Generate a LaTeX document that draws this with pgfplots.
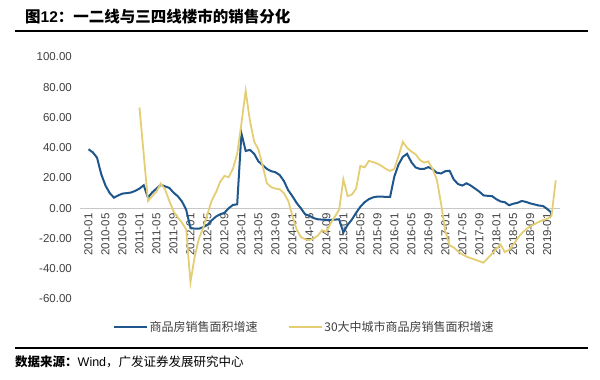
\documentclass[border=0pt]{standalone}
\usepackage{fontspec}
\setmainfont{Liberation Sans}
\newfontfamily\cjk{Noto Sans CJK SC}
\usepackage{pgfplots}
\pgfplotsset{compat=1.18}
\definecolor{bluel}{RGB}{31,86,140}
\definecolor{goldl}{RGB}{228,206,116}
\definecolor{ticktxt}{RGB}{64,64,64}
\definecolor{zerol}{RGB}{200,200,200}

\begin{document}
\begin{tikzpicture}[x=1bp,y=1bp]
\useasboundingbox (0,0) rectangle (600,379);
\node[anchor=west, inner sep=0pt] at (25,362) {\fontsize{15.5bp}{18bp}\selectfont{\cjk\bfseries 图}{\bfseries 12}{\cjk\bfseries ：一二线与三四线楼市的销售分化}};
\draw[line width=1.4bp] (15,348) -- (588,348);
\draw[line width=1.4bp] (15,31) -- (588,31);
\node[anchor=west, inner sep=0pt] at (15,17) {\fontsize{12.5bp}{15bp}\selectfont{\cjk\bfseries 数据来源：}Wind{\cjk ，广发证券发展研究中心}};
\begin{axis}[
  at={(80bp,80bp)}, anchor=south west,
  scale only axis, width=480bp, height=242bp,
  xmin=-2, xmax=111, ymin=-60, ymax=100,
  axis x line=middle, axis y line=left,
  x axis line style={-, zerol, line width=0.8bp},
  y axis line style={draw=none},
  hide obscured x ticks=false, hide obscured y ticks=false,
  major tick length=0pt,
  xtick style={draw=none}, ytick style={draw=none},
  ytick={-60,-40,-20,0,20,40,60,80,100},
  yticklabels={-60.00,-40.00,-20.00,0.00,20.00,40.00,60.00,80.00,100.00},
  yticklabel style={font=\fontsize{11.5bp}{13bp}\selectfont, text=ticktxt, anchor=east, inner sep=0pt, xshift=-8bp},
  xtick={0,4,...,108},
  xticklabels={2010-01,2010-05,2010-09,2011-01,2011-05,2011-09,2012-01,2012-05,2012-09,2013-01,2013-05,2013-09,2014-01,2014-05,2014-09,2015-01,2015-05,2015-09,2016-01,2016-05,2016-09,2017-01,2017-05,2017-09,2018-01,2018-05,2018-09,2019-01},
  xticklabel shift=5bp,
  xticklabel style={font=\fontsize{11.5bp}{13bp}\selectfont, text=ticktxt, rotate=90, anchor=east, inner sep=0pt},
  legend columns=2,
  legend style={draw=none, fill=none, at={(0.467,-0.116)}, anchor=center,
    font=\cjk\fontsize{12bp}{14bp}\selectfont, text=ticktxt,
    /tikz/every even column/.append style={column sep=28bp}},
  legend image code/.code={\draw[#1] (0bp,0bp) -- (33bp,0bp);},
]
\addplot[bluel, line width=2bp] coordinates {
(0,39) (1,37) (2,33.5) (3,22.5) (4,15) (5,10) (6,7) (7,8.5) (8,9.7) (9,10) (10,10.4) (11,11.5) (12,13) (13,15.2) (14,7) (15,10.5) (16,13) (17,15.5) (18,14.5) (19,13.5) (20,10.4) (21,8) (22,4.5) (23,-1) (24,-13) (25,-13.5) (26,-13.5) (27,-12.5) (28,-11) (29,-8) (30,-5.5) (31,-4) (32,-3) (33,0) (34,2.2) (35,2.6) (36,49.5) (37,37.9) (38,38.6) (39,36) (40,31) (41,28.5) (42,26) (43,24.5) (44,23.8) (45,22) (46,18) (47,12) (48,8) (49,3.5) (50,0) (51,-4) (52,-5) (53,-6.5) (54,-7.3) (55,-7.5) (56,-7.7) (57,-7.7) (58,-7.5) (59,-7.3) (60,-16) (61,-11) (62,-7.5) (63,-3) (64,1) (65,4) (66,6) (67,7.2) (68,7.7) (69,7.7) (70,7.5) (71,7.5) (72,21) (73,29) (74,34) (75,36) (76,30.5) (77,27) (78,26) (79,26) (80,27.2) (81,25.8) (82,23.5) (83,23) (84,24.5) (85,24.8) (86,19) (87,16) (88,15) (89,16.5) (90,15) (91,13) (92,11) (93,8.5) (94,8.2) (95,8) (96,6) (97,4.5) (98,4) (99,2) (100,3) (101,3.6) (102,4.8) (103,4.2) (104,3.2) (105,2.5) (106,1.8) (107,1.5) (108,-0.5) (109,-3)
};
\addlegendentry{商品房销售面积增速}
\addplot[goldl, line width=1.8bp] coordinates {
(12,66.6) (14,4.8) (15,8) (16,11) (17,16.3) (18,12.6) (19,5) (20,-2) (21,-6) (22,-9.5) (23,-14) (24,-49) (25,-32) (26,-20) (27,-13) (28,-4) (29,5) (30,10.5) (31,17.5) (32,21.4) (33,20.5) (34,26) (35,36) (36,56) (37,77.6) (38,58) (39,44) (40,39) (41,28) (42,16.5) (43,14) (44,13) (45,12.5) (46,10) (47,5) (48,-5) (49,-14) (50,-19) (51,-20.5) (52,-21) (53,-20) (54,-18) (55,-14.5) (56,-15.5) (57,-10) (58,-5.5) (59,-1) (60,19.2) (61,8) (62,9) (63,13) (64,28) (65,27) (66,31.3) (67,30.5) (68,29.5) (69,28) (70,26) (71,24.7) (72,26) (73,34.6) (74,43.9) (75,40) (76,37.5) (77,35.7) (78,32) (79,30.2) (80,31) (81,26) (82,19) (83,3) (84,-15) (85,-24.5) (86,-26) (87,-28.5) (88,-30.5) (89,-32) (90,-33) (91,-34) (92,-35) (93,-36) (94,-33) (95,-30) (96,-27) (97,-24) (98,-29) (99,-27.5) (100,-24) (101,-20) (102,-16.5) (103,-14) (104,-12) (105,-10.5) (106,-9) (107,-7.8) (108,-7) (109,-5) (110,18.5)
};
\addlegendentry{30大中城市商品房销售面积增速}
\end{axis}
\end{tikzpicture}
\end{document}
